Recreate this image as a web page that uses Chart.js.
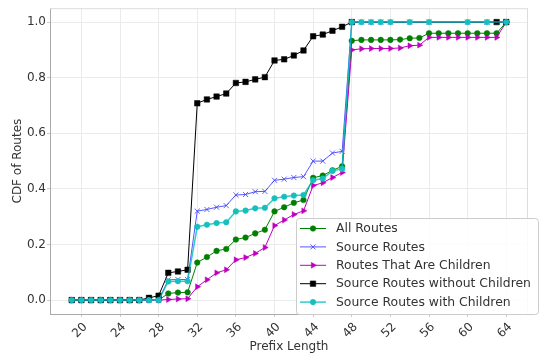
<!DOCTYPE html>
<html>
<head>
<meta charset="utf-8">
<script src="https://cdn.jsdelivr.net/npm/chart.js@4.4.1/dist/chart.umd.min.js"></script>
<style>
  html, body { margin: 0; padding: 0; background: #ffffff; }
  #wrap { width: 540px; height: 354px; }
</style>
</head>
<body>
<div id="wrap"><canvas id="cdf" width="540" height="354"></canvas></div>
<script>
// Prefix lengths on the x axis (one sample per length)
const prefixLengths = [19, 20, 21, 22, 23, 24, 25, 26, 27, 28, 29, 30, 31, 32, 33, 34, 35, 36, 37, 38, 39, 40, 41,
                       42, 43, 44, 45, 46, 47, 48, 49, 50, 51, 52, 53, 54, 55, 56, 57, 58, 59, 60, 61, 62, 63, 64];

// CDF values per series; null = no sample at that prefix length
const allRoutes = [0, 0, 0, 0, 0, 0, 0, 0, 0, 0, 0.024, 0.027, 0.028,
  0.135, 0.155, 0.177, 0.184, 0.218, 0.225, 0.240, 0.253, 0.319, 0.334, 0.350, 0.360, 0.440, 0.448, 0.467, 0.481,
  0.933, 0.936, 0.936, 0.936, 0.936, 0.937, 0.942, 0.943, 0.960, 0.960, 0.960, 0.960, 0.960, 0.960, 0.960, 0.960, 1.0];

const sourceRoutes = [0, 0, 0, 0, 0, 0, 0, 0, 0, 0, 0.073, 0.074, 0.074,
  0.320, 0.326, 0.334, 0.340, 0.378, 0.380, 0.390, 0.391, 0.431, 0.435, 0.441, 0.444, 0.500, 0.500, 0.529, 0.535,
  1.0, 1.0, 1.0, 1.0, 1.0, null, 1.0, null, 1.0, null, null, null, 1.0, null, 1.0, null, 1.0];

const childRoutes = [0, 0, 0, 0, 0, 0, 0, 0, 0, 0, 0.002, 0.004, 0.005,
  0.048, 0.073, 0.098, 0.109, 0.145, 0.153, 0.168, 0.189, 0.268, 0.288, 0.308, 0.321, 0.412, 0.422, 0.441, 0.459,
  0.900, 0.904, 0.905, 0.905, 0.905, 0.907, 0.915, 0.917, 0.945, 0.945, 0.945, 0.945, 0.945, 0.945, 0.945, 0.945, 1.0];

const sourceWithoutChildren = [0, 0, 0, 0, 0, 0, 0, 0, 0.008, 0.016, 0.098, 0.103, 0.109,
  0.708, 0.722, 0.732, 0.743, 0.781, 0.785, 0.794, 0.802, 0.862, 0.866, 0.880, 0.898, 0.949, 0.955, 0.969, 0.983,
  1.0, null, null, null, null, null, null, null, null, null, null, null, null, null, null, 1.0, 1.0];

const sourceWithChildren = [0, 0, 0, 0, 0, 0, 0, 0, 0, 0, 0.067, 0.068, 0.068,
  0.264, 0.271, 0.277, 0.280, 0.319, 0.322, 0.330, 0.332, 0.366, 0.372, 0.376, 0.378, 0.431, 0.437, 0.465, 0.472,
  1.0, 1.0, 1.0, 1.0, 1.0, null, 1.0, null, 1.0, null, null, null, 1.0, null, 1.0, null, 1.0];

// Axis tick labels
const xTicks = [20, 24, 28, 32, 36, 40, 44, 48, 52, 56, 60, 64];
const yTicks = [0.0, 0.2, 0.4, 0.6, 0.8, 1.0];

const FONT = '"DejaVu Sans", "Liberation Sans", sans-serif';
const TEXT = '#333333';

function points(values) {
  return prefixLengths.map((x, i) => ({ x: x, y: values[i] }));
}

function series(label, values, color, lineColor, style, radius, lw, order, rotation) {
  return {
    label: label,
    data: points(values),
    borderColor: lineColor,
    backgroundColor: color,
    pointBackgroundColor: color,
    pointBorderColor: color,
    pointBorderWidth: style === 'crossRot' ? 1 : 0.5,
    pointStyle: style,
    pointRadius: radius,
    pointHoverRadius: radius,
    pointRotation: rotation || 0,
    borderWidth: lw,
    tension: 0,
    spanGaps: true,
    fill: false,
    order: order
  };
}

const datasets = [
  series('All Routes', allRoutes, '#008000', '#008000', 'circle', 2.8, 1, 4),
  series('Source Routes', sourceRoutes, 'rgba(60,60,255,0.8)', 'rgba(30,30,255,0.75)', 'crossRot', 3.6, 1, 3),
  series('Routes That Are Children', childRoutes, '#bf00bf', '#bf00bf', 'triangle', 3.4, 1, 2, 90),
  series('Source Routes without Children', sourceWithoutChildren, '#000000', '#000000', 'rect', 3.9, 1, 1),
  series('Source Routes with Children', sourceWithChildren, '#17bebe', 'rgba(0,191,191,0.8)', 'circle', 2.8, 1.5, 0)
];

// Marker drawing for the legend entries
function drawMarker(ctx, ds, x, y) {
  const r = ds.pointRadius;
  ctx.save();
  ctx.translate(x, y);
  ctx.fillStyle = ds.pointBackgroundColor;
  ctx.strokeStyle = ds.pointBorderColor;
  ctx.lineWidth = ds.pointBorderWidth;
  ctx.beginPath();
  if (ds.pointStyle === 'circle') {
    ctx.arc(0, 0, r, 0, Math.PI * 2);
    ctx.fill(); ctx.stroke();
  } else if (ds.pointStyle === 'rect') {
    const s = r / Math.SQRT2;
    ctx.rect(-s, -s, 2 * s, 2 * s);
    ctx.fill(); ctx.stroke();
  } else if (ds.pointStyle === 'triangle') {
    ctx.rotate(Math.PI / 2);
    ctx.moveTo(0, -r);
    ctx.lineTo(r * Math.sin(Math.PI * 2 / 3), -r * Math.cos(Math.PI * 2 / 3));
    ctx.lineTo(r * Math.sin(Math.PI * 4 / 3), -r * Math.cos(Math.PI * 4 / 3));
    ctx.closePath();
    ctx.fill(); ctx.stroke();
  } else if (ds.pointStyle === 'crossRot') {
    const s = r * Math.SQRT1_2;
    ctx.moveTo(-s, -s); ctx.lineTo(s, s);
    ctx.moveTo(-s, s); ctx.lineTo(s, -s);
    ctx.stroke();
  }
  ctx.restore();
}

const framePlugin = {
  id: 'frame',
  beforeDatasetsDraw(chart) {
    const { ctx, chartArea: a } = chart;
    ctx.save();
    ctx.strokeStyle = '#dddddd';
    ctx.lineWidth = 1;
    ctx.beginPath();
    ctx.moveTo(a.left, a.top + 0.5); ctx.lineTo(a.right, a.top + 0.5);
    ctx.moveTo(a.right - 0.5, a.top); ctx.lineTo(a.right - 0.5, a.bottom);
    ctx.stroke();
    ctx.restore();
  }
};

const legendPlugin = {
  id: 'boxLegend',
  afterDraw(chart) {
    const ctx = chart.ctx;
    const box = { x: 296.5, y: 218.5, w: 242, h: 96 };
    ctx.save();
    ctx.fillStyle = 'rgba(255,255,255,0.85)';
    ctx.strokeStyle = '#cccccc';
    ctx.lineWidth = 1;
    ctx.beginPath();
    ctx.roundRect(box.x, box.y, box.w, box.h, 3);
    ctx.fill();
    ctx.stroke();
    ctx.font = '12.4px ' + FONT;
    ctx.textBaseline = 'middle';
    ctx.fillStyle = TEXT;
    chart.data.datasets.forEach((ds, i) => {
      const y = 228.5 + i * 18.4;
      ctx.strokeStyle = ds.borderColor;
      ctx.lineWidth = ds.borderWidth;
      ctx.beginPath();
      ctx.moveTo(300, y); ctx.lineTo(326, y);
      ctx.stroke();
      drawMarker(ctx, ds, 313, y);
      ctx.fillStyle = TEXT;
      ctx.fillText(ds.label, 336, y + 0.5);
    });
    ctx.restore();
  }
};

new Chart(document.getElementById('cdf'), {
  type: 'line',
  data: { datasets: datasets },
  options: {
    responsive: false,
    animation: false,
    devicePixelRatio: 1,
    layout: { padding: { top: 4, right: 12, left: 0, bottom: 0 } },
    plugins: {
      legend: { display: false },
      tooltip: { enabled: false }
    },
    scales: {
      x: {
        type: 'linear',
        min: 16.75,
        max: 66.25,
        afterFit(scale) { scale.height = 40; },
        afterBuildTicks(scale) { scale.ticks = xTicks.map(v => ({ value: v })); },
        grid: { color: '#ebebeb', lineWidth: 1, tickLength: 3, tickColor: '#cccccc' },
        border: { color: '#aaaaaa', width: 1 },
        ticks: {
          autoSkip: false,
          minRotation: 45,
          maxRotation: 45,
          padding: 3,
          labelOffset: 4,
          color: TEXT,
          font: { family: FONT, size: 12 },
          callback: v => String(v)
        },
        title: {
          display: true,
          text: 'Prefix Length',
          color: TEXT,
          font: { family: FONT, size: 12 },
          padding: { top: 0, bottom: 0 }
        }
      },
      y: {
        type: 'linear',
        min: -0.05,
        max: 1.05,
        afterFit(scale) { scale.width = 50; },
        afterBuildTicks(scale) { scale.ticks = yTicks.map(v => ({ value: v })); },
        grid: { color: '#ebebeb', lineWidth: 1, tickLength: 3, tickColor: '#cccccc' },
        border: { color: '#aaaaaa', width: 1 },
        ticks: {
          padding: 1,
          color: TEXT,
          font: { family: FONT, size: 12 },
          callback: v => Number(v).toFixed(1)
        },
        title: {
          display: true,
          text: 'CDF of Routes',
          color: TEXT,
          font: { family: FONT, size: 12 },
          padding: { top: 11, bottom: 0 }
        }
      }
    }
  },
  plugins: [framePlugin, legendPlugin]
});
</script>
</body>
</html>
